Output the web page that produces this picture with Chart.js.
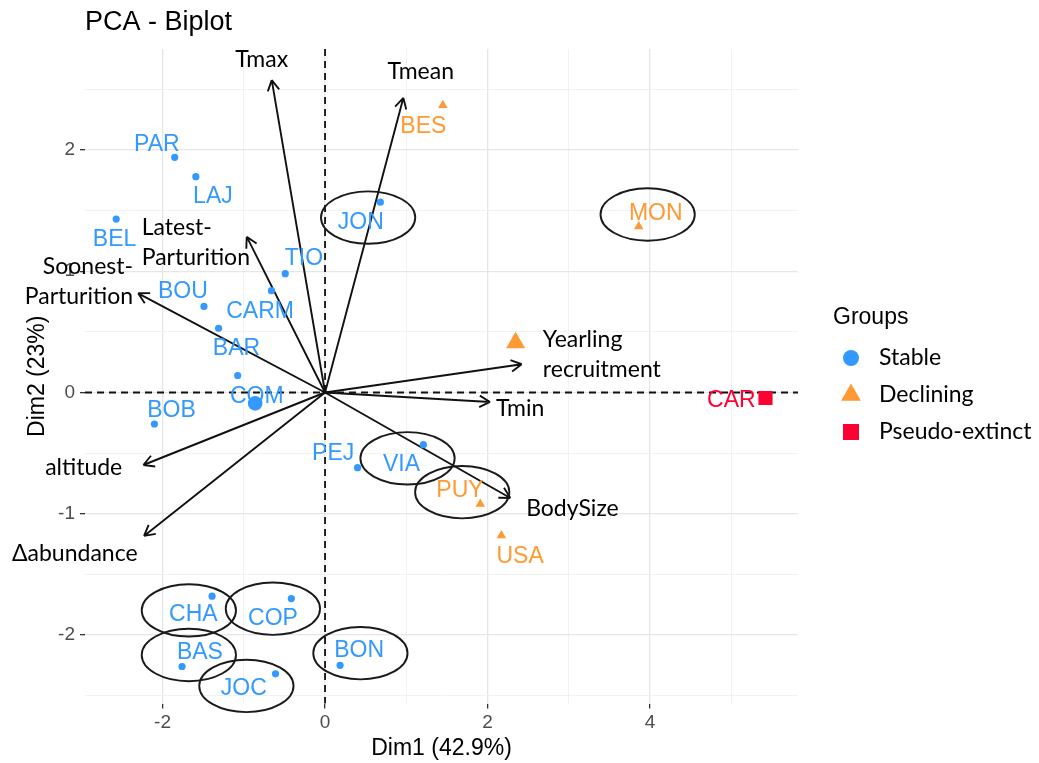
<!DOCTYPE html>
<html>
<head>
<meta charset="utf-8">
<script src="https://cdn.jsdelivr.net/npm/chart.js@4.4.0/dist/chart.umd.min.js"></script>
<style>
  html, body { margin: 0; padding: 0; background: #fff; }
  canvas { display: block; }
</style>
</head>
<body>
<canvas id="plot" width="1039" height="763"></canvas>
<script>
// individuals (sites)
const stableNames = ['PAR', 'LAJ', 'BEL', 'TIO', 'CARM', 'BOU', 'BAR', 'COM', 'BOB', 'PEJ', 'VIA', 'CHA', 'COP', 'BAS', 'JOC', 'BON', 'JON']
const stableX = [-1.85, -1.59, -2.57, -0.49, -0.66, -1.49, -1.31, -1.075, -2.10, 0.40, 1.21, -1.39, -0.415, -1.76, -0.61, 0.185, 0.68]
const stableY = [1.94, 1.78, 1.43, 0.98, 0.84, 0.71, 0.53, 0.14, -0.26, -0.62, -0.43, -1.68, -1.70, -2.26, -2.32, -2.25, 1.57]
const stableLabelX = [-2.07, -1.38, -2.59, -0.26, -0.80, -1.75, -1.09, -0.84, -1.89, 0.10, 0.94, -1.62, -0.64, -1.54, -1.00, 0.42, 0.44]
const stableLabelY = [2.06, 1.63, 1.28, 1.12, 0.68, 0.85, 0.38, -0.02, -0.13, -0.49, -0.58, -1.82, -1.85, -2.13, -2.43, -2.11, 1.42]

const decliningNames = ['BES', 'MON', 'PUY', 'USA']
const decliningX = [1.45, 3.86, 1.91, 2.17]
const decliningY = [2.37, 1.37, -0.92, -1.18]
const decliningLabelX = [1.21, 4.07, 1.66, 2.40]
const decliningLabelY = [2.21, 1.49, -0.79, -1.34]

const extinctNames = ['CAR']
const extinctX = [5.42]
const extinctY = [-0.045]
const extinctLabelX = [5.0]
const extinctLabelY = [-0.05]

// group mean points
const meanX = [-0.86, 2.345, 5.42]
const meanY = [-0.09, 0.41, -0.045]

// variables (arrows)
const varNames = ['Tmax', 'Tmean', 'Latest-\nParturition', 'Soonest-\nParturition', 'Yearling\nrecruitment', 'Tmin', 'BodySize', 'altitude', 'Δabundance']
const varX = [-0.656, 0.964, -0.964, -2.30, 2.42, 2.03, 2.28, -2.236, -2.228]
const varY = [2.577, 2.43, 1.285, 0.818, 0.233, -0.078, -0.87, -0.598, -1.183]
const varLabelX = [-0.78, 1.178, -2.256, -2.363, 2.68, 2.40, 3.044, -2.97, -3.08]
const varLabelY = [2.748, 2.646, 1.235, 0.911, 0.315, -0.136, -0.96, -0.617, -1.33]
const varLabelAlign = ['center', 'center', 'left', 'right', 'left', 'center', 'center', 'center', 'center']

// hand-drawn ellipses around some sites
const ringX = [0.53, 3.97, 1.015, 1.688, -1.676, -0.642, -1.676, -0.968, 0.435]
const ringY = [1.443, 1.468, -0.543, -0.822, -1.797, -1.783, -2.165, -2.42, -2.15]

const groups = ['Stable', 'Declining', 'Pseudo-extinct']
const xTicks = [-2, -1, 0, 1, 2, 3, 4, 5]
const yTicks = [-2.5, -2, -1.5, -1, -0.5, 0, 0.5, 1, 1.5, 2, 2.5]

const BLUE = '#3399FF', ORANGE = '#FF9933', RED = '#FF0033'
const ptFont = '23px "Liberation Sans", Arial, sans-serif'
const varFont = '23px Lato, "Open Sans", sans-serif'

function pts(xs, ys) { return xs.map((x, i) => ({ x: x, y: ys[i] })) }

const overlay = {
    id: 'overlay',
    beforeDatasetsDraw(chart) {
        const { ctx, chartArea: a, scales: { x, y } } = chart
        const x0 = x.getPixelForValue(0), y0 = y.getPixelForValue(0)
        ctx.save()
        ctx.strokeStyle = '#111'
        ctx.lineWidth = 1.8
        ctx.setLineDash([7, 5])
        ctx.beginPath()
        ctx.moveTo(x0, a.top); ctx.lineTo(x0, a.bottom)
        ctx.moveTo(a.left, y0); ctx.lineTo(a.right, y0)
        ctx.stroke()
        ctx.setLineDash([])
        ctx.strokeStyle = '#111'
        ctx.lineWidth = 1.9
        for (let i = 0; i < varX.length; i++) {
            const tx = x.getPixelForValue(varX[i]), ty = y.getPixelForValue(varY[i])
            const ang = Math.atan2(ty - y0, tx - x0)
            ctx.beginPath()
            ctx.moveTo(x0, y0); ctx.lineTo(tx, ty)
            for (const s of [-1, 1]) {
                ctx.moveTo(tx, ty)
                ctx.lineTo(tx - 12 * Math.cos(ang + s * 0.5), ty - 12 * Math.sin(ang + s * 0.5))
            }
            ctx.stroke()
        }
        ctx.restore()
    },
    afterDatasetsDraw(chart) {
        const { ctx, scales: { x, y } } = chart
        ctx.save()
        // site labels
        ctx.font = ptFont
        ctx.textAlign = 'center'
        ctx.textBaseline = 'alphabetic'
        const put = (names, lx, ly, col) => {
            ctx.fillStyle = col
            names.forEach((n, i) => ctx.fillText(n, x.getPixelForValue(lx[i]), y.getPixelForValue(ly[i]) + 8.3))
        }
        put(stableNames, stableLabelX, stableLabelY, BLUE)
        put(decliningNames, decliningLabelX, decliningLabelY, ORANGE)
        put(extinctNames, extinctLabelX, extinctLabelY, RED)

        // variable labels
        ctx.font = varFont
        ctx.fillStyle = '#000'
        ctx.textBaseline = 'middle'
        varNames.forEach((n, i) => {
            const lines = n.split('\n')
            const px = x.getPixelForValue(varLabelX[i]), py = y.getPixelForValue(varLabelY[i])
            ctx.textAlign = varLabelAlign[i]
            lines.forEach((l, k) => ctx.fillText(l, px, py + (k - (lines.length - 1) / 2) * 30))
        })

        // ellipses
        ctx.strokeStyle = '#1a1a1a'
        ctx.lineWidth = 1.9
        const rx = Math.abs(x.getPixelForValue(0.58) - x.getPixelForValue(0))
        const ry = Math.abs(y.getPixelForValue(0.216) - y.getPixelForValue(0))
        ringX.forEach((cx, i) => {
            ctx.beginPath()
            ctx.ellipse(x.getPixelForValue(cx), y.getPixelForValue(ringY[i]), rx, ry, 0, 0, Math.PI * 2)
            ctx.stroke()
        })
        ctx.restore()
    },
    afterDraw(chart) {
        const { ctx } = chart
        ctx.save()
        ctx.fillStyle = '#000'
        ctx.textBaseline = 'middle'
        ctx.textAlign = 'left'
        ctx.font = '27px "Liberation Sans", Arial, sans-serif'
        ctx.fillText('PCA - Biplot', 85, 23)

        // legend
        ctx.font = '23px "Liberation Sans", Arial, sans-serif'
        ctx.fillText('Groups', 833, 318)
        const styles = [['circle', 8, BLUE], ['triangle', 11.5, ORANGE], ['rect', 11.3, RED]]
        ctx.font = varFont
        groups.forEach((g, i) => {
            const yy = 358 + i * 37
            ctx.fillStyle = styles[i][2]
            Chart.helpers.drawPoint(ctx, { pointStyle: styles[i][0], radius: styles[i][1], rotation: 0, borderWidth: 0 }, 851, yy)
            ctx.fillStyle = '#000'
            ctx.fillText(g, 879, yy)
        })
        ctx.restore()
    }
}

const gridCol = (major) => major ? '#E6E6E6' : '#F1F1F1'

const config = {
    type: 'scatter',
    data: {
        datasets: [
            { label: 'Stable', data: pts(stableX, stableY), pointStyle: 'circle', pointRadius: 3.6, backgroundColor: BLUE, borderWidth: 0 },
            { label: 'Declining', data: pts(decliningX, decliningY), pointStyle: 'triangle', pointRadius: 5.5, backgroundColor: ORANGE, borderWidth: 0 },
            { label: 'Pseudo-extinct', data: pts(extinctX, extinctY), pointStyle: 'rect', pointRadius: 5, backgroundColor: RED, borderWidth: 0 },
            { label: 'mean', data: pts(meanX.slice(0, 1), meanY.slice(0, 1)), pointStyle: 'circle', pointRadius: 7.3, backgroundColor: BLUE, borderWidth: 0 },
            { label: 'mean', data: pts(meanX.slice(1, 2), meanY.slice(1, 2)), pointStyle: 'triangle', pointRadius: 11, backgroundColor: ORANGE, borderWidth: 0 },
            { label: 'mean', data: pts(meanX.slice(2), meanY.slice(2)), pointStyle: 'rect', pointRadius: 10, backgroundColor: RED, borderWidth: 0 }
        ]
    },
    options: {
        responsive: false,
        animation: false,
        layout: { padding: { left: 0, top: 49, right: 241, bottom: 0 } },
        plugins: {
            legend: { display: false },
            tooltip: { enabled: false }
        },
        scales: {
            x: {
                type: 'linear',
                min: -2.954,
                max: 5.82,
                afterBuildTicks: (s) => { s.ticks = xTicks.map(v => ({ value: v })) },
                afterFit: (s) => { s.height = 59.5 },
                border: { display: false },
                grid: {
                    color: (c) => gridCol(c.tick && c.tick.value % 2 === 0),
                    lineWidth: (c) => (c.tick && c.tick.value % 2 === 0) ? 1.3 : 0.9,
                    tickColor: (c) => (c.tick && c.tick.value % 2 === 0) ? '#333' : 'rgba(0,0,0,0)',
                    tickLength: 5
                },
                ticks: {
                    autoSkip: false,
                    maxRotation: 0,
                    padding: 3,
                    color: '#4D4D4D',
                    font: { family: '"Liberation Sans", Arial, sans-serif', size: 19 },
                    callback: (v) => v % 2 === 0 ? String(v) : ''
                },
                title: {
                    display: true,
                    text: 'Dim1 (42.9%)',
                    color: '#000',
                    padding: { top: 0, bottom: 1 },
                    font: { family: '"Liberation Sans", Arial, sans-serif', size: 23 }
                }
            },
            y: {
                type: 'linear',
                min: -2.565,
                max: 2.833,
                afterBuildTicks: (s) => { s.ticks = yTicks.map(v => ({ value: v })) },
                afterFit: (s) => { s.width = 85 },
                border: { display: false },
                grid: {
                    color: (c) => gridCol(c.tick && Number.isInteger(c.tick.value)),
                    lineWidth: (c) => (c.tick && Number.isInteger(c.tick.value)) ? 1.3 : 0.9,
                    tickColor: (c) => (c.tick && Number.isInteger(c.tick.value)) ? '#333' : 'rgba(0,0,0,0)',
                    tickLength: 5
                },
                ticks: {
                    autoSkip: false,
                    padding: 5,
                    color: '#4D4D4D',
                    font: { family: '"Liberation Sans", Arial, sans-serif', size: 19 },
                    callback: (v) => Number.isInteger(v) ? String(v) : ''
                },
                title: {
                    display: true,
                    text: 'Dim2 (23%)',
                    color: '#000',
                    padding: { top: 24, bottom: 0 },
                    font: { family: '"Liberation Sans", Arial, sans-serif', size: 23 }
                }
            }
        }
    },
    plugins: [overlay]
}

const chart = new Chart(document.getElementById('plot'), config)
</script>
</body>
</html>
